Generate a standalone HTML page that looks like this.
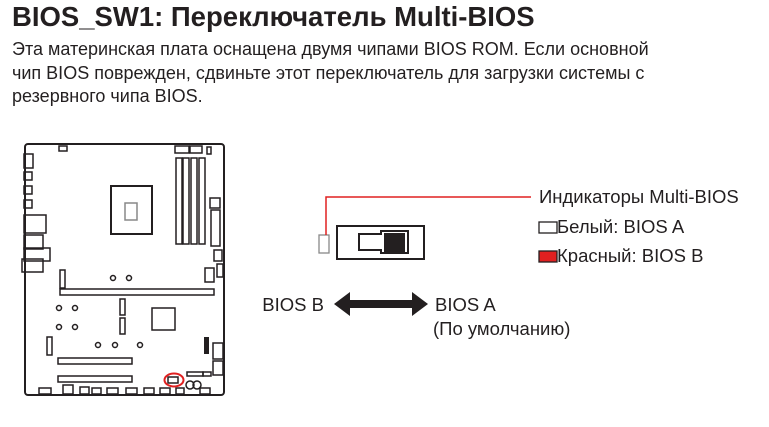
<!DOCTYPE html>
<html><head><meta charset="utf-8"><style>
body{margin:0;width:769px;height:427px;background:#fff;overflow:hidden;font-family:"Liberation Sans","DejaVu Sans",sans-serif;color:#231f20}
.t{position:absolute;left:12px;top:1px;font-size:27.5px;font-weight:bold;white-space:nowrap}
.p{position:absolute;left:12px;top:38px;font-size:18px;line-height:23.5px;white-space:nowrap}
svg{position:absolute;left:0;top:0}
</style></head><body>
<div class="t">BIOS_SW1: Переключатель Multi-BIOS</div>
<div class="p">Эта материнская плата оснащена двумя чипами BIOS ROM. Если основной<br>чип BIOS поврежден, сдвиньте этот переключатель для загрузки системы с<br>резервного чипа BIOS.</div>
<svg width="769" height="427" viewBox="0 0 769 427">
<g fill="none" stroke="#231f20" stroke-width="1.5">
<rect x="25" y="144" width="199" height="251" rx="3" stroke-width="2"/>
<rect x="59" y="146" width="8" height="5"/>
<rect x="24" y="154" width="9" height="14"/><rect x="24" y="172" width="8" height="8"/><rect x="24" y="186" width="8" height="8"/><rect x="24" y="200" width="8" height="8"/>
<rect x="24" y="215" width="22" height="18"/><rect x="24" y="235" width="19" height="14"/><rect x="24" y="248" width="26" height="13"/><rect x="22" y="259" width="21" height="13"/>
<rect x="175" y="146" width="14" height="7"/><rect x="190" y="146" width="12" height="7"/><rect x="207" y="147" width="4" height="7"/>
<rect x="176" y="158" width="6" height="86"/><rect x="183" y="158" width="6" height="86"/><rect x="191" y="158" width="6" height="86"/><rect x="199" y="158" width="6" height="86"/>
<rect x="111" y="186" width="41" height="48" stroke-width="2"/><rect x="125" y="203" width="12" height="17" stroke="#888"/>
<rect x="210" y="198" width="10" height="10"/><rect x="211" y="210" width="9" height="36"/><rect x="214" y="250" width="8" height="11"/><rect x="217" y="264" width="6" height="13"/>
<rect x="205" y="268" width="9" height="14"/>
<rect x="60" y="289" width="154" height="6"/><rect x="60" y="270" width="5" height="18"/>
<circle cx="113" cy="278" r="2.5"/><circle cx="129" cy="278" r="2.5"/>
<circle cx="59" cy="308" r="2.5"/><circle cx="75" cy="308" r="2.5"/><circle cx="59" cy="327" r="2.5"/><circle cx="75" cy="327" r="2.5"/>
<rect x="120" y="299" width="5" height="16"/><rect x="120" y="318" width="5" height="16"/>
<rect x="152" y="308" width="23" height="22"/>
<rect x="47" y="337" width="5" height="18"/><circle cx="98" cy="345" r="2.5"/><circle cx="115" cy="345" r="2.5"/><circle cx="140" cy="345" r="2.5"/>
<rect x="58" y="358" width="74" height="6"/><rect x="58" y="376" width="74" height="6"/>
<rect x="213" y="343" width="10" height="16"/><rect x="213" y="361" width="10" height="14"/>
<rect x="187" y="372" width="16" height="4"/><rect x="203" y="372" width="8" height="4"/>
<rect x="168" y="377" width="10" height="6"/>
<rect x="39" y="388" width="12" height="6"/><rect x="63" y="385" width="10" height="9"/><rect x="80" y="387" width="9" height="7"/><rect x="92" y="388" width="9" height="6"/><rect x="107" y="388" width="11" height="6"/><rect x="126" y="388" width="11" height="6"/><rect x="144" y="388" width="10" height="6"/><rect x="160" y="388" width="10" height="6"/><rect x="176" y="388" width="8" height="6"/><rect x="200" y="388" width="10" height="6"/>
<circle cx="190" cy="385" r="4"/><circle cx="197" cy="385" r="4"/>
</g>
<rect x="204" y="337" width="5" height="17" fill="#231f20"/>
<ellipse cx="174" cy="380" rx="9.5" ry="6.5" fill="none" stroke="#e02020" stroke-width="2"/>
<rect x="319" y="235" width="10" height="18" fill="#fff" stroke="#888" stroke-width="1.3"/>
<polyline points="326,235 326,197 531,197" fill="none" stroke="#e02020" stroke-width="1.5"/>
<rect x="337" y="226" width="87" height="33" fill="#fff" stroke="#231f20" stroke-width="2"/>
<path d="M359 234 H381 V231 H408 V253 H381 V250 H359 Z" fill="#fff" stroke="#231f20" stroke-width="2"/>
<rect x="384" y="233" width="21" height="19" fill="#231f20"/>
<path d="M334 304 L350 292 L350 300 L412 300 L412 292 L428 304 L412 316 L412 308 L350 308 L350 316 Z" fill="#231f20"/>
<rect x="539" y="222" width="18" height="11" fill="#fff" stroke="#231f20" stroke-width="1.3"/>
<rect x="539" y="251" width="18" height="11" fill="#e02020" stroke="#231f20" stroke-width="1.3"/>
<g font-family="Liberation Sans, DejaVu Sans, sans-serif" font-size="18.5" fill="#231f20">
<text x="539" y="203">Индикаторы Multi-BIOS</text>
<text x="557" y="233">Белый: BIOS A</text>
<text x="557" y="262">Красный: BIOS B</text>
<text x="324" y="311" text-anchor="end">BIOS B</text>
<text x="435" y="311">BIOS A</text>
<text x="433" y="335">(По умолчанию)</text>
</g>
</svg>
</body></html>
